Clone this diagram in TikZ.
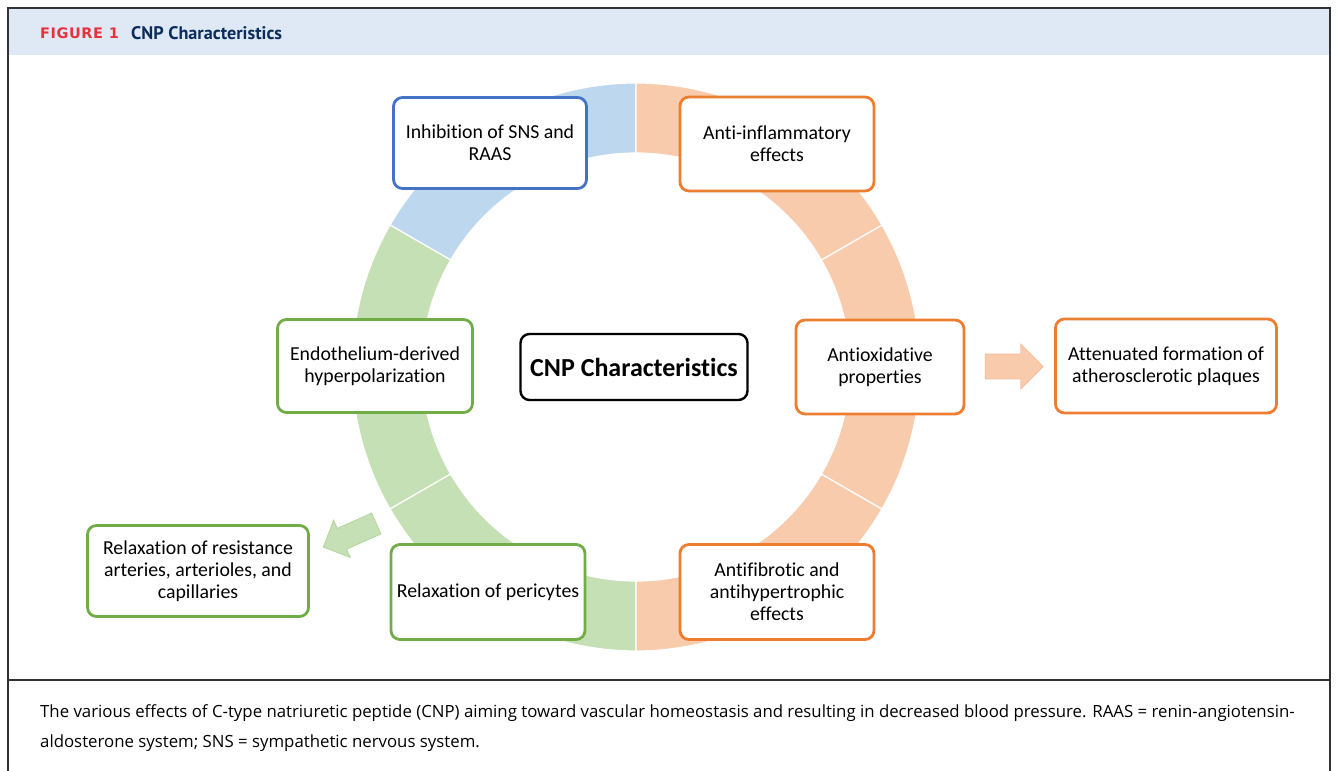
\documentclass[tikz,border=0pt]{standalone}
\usepackage{fontspec}
\setmainfont{Carlito}[Ligatures=NoCommon]
\newfontfamily\headfont{PT Sans}
\newfontfamily\figfont{DejaVu Sans}
\newfontfamily\capfont{Open Sans}
\usepackage{xcolor}
\usepackage{tikz}
\usetikzlibrary{shapes.arrows,calc}

\definecolor{headbg}{HTML}{DEE9F5}
\definecolor{figred}{HTML}{E5323B}
\definecolor{navy}{HTML}{0C2D5B}
\definecolor{ringblue}{HTML}{BDD7EE}
\definecolor{ringgreen}{HTML}{C5E0B4}
\definecolor{ringorange}{HTML}{F8CBAD}
\definecolor{lineblue}{HTML}{4472C4}
\definecolor{linegreen}{HTML}{70AD47}
\definecolor{lineorange}{HTML}{ED7D31}
\definecolor{framegray}{HTML}{333333}

\begin{document}
\begin{tikzpicture}[x=1pt,y=1pt,
    box/.style={draw, line width=2.8pt, rounded corners=9pt, fill=white,
      align=center, inner sep=0pt, font=\fontsize{19.8}{22}\selectfont},
    bluebox/.style={box, draw=lineblue},
    greenbox/.style={box, draw=linegreen},
    orangebox/.style={box, draw=lineorange},
    blockarrow/.style={single arrow, inner xsep=0pt, line width=0.8pt}]
    \useasboundingbox (0,0) rectangle (1336,771);

    % frame and header
    \fill[headbg] (8,716) rectangle (1330,763);
    \draw[framegray, line width=1.6pt] (8,-10) rectangle (1330,763);
    \draw[framegray, line width=1.6pt] (8,91) -- (1330,91);
    \node[anchor=west, inner sep=0pt, text=figred, font=\figfont\bfseries\fontsize{14.5}{18}\selectfont\addfontfeature{LetterSpace=4}] (fig) at (40,738) {FIGURE 1};
    \node[anchor=west, inner sep=0pt, text=navy, font=\headfont\bfseries\fontsize{18.2}{21}\selectfont] (title) at (131,738) {CNP Characteristics};

    % ring
    \coordinate (c) at (636,404);
    \foreach \a/\b/\col in {90/150/ringblue, 150/210/ringgreen, 210/270/ringgreen,
                            270/330/ringorange, 330/390/ringorange, 390/450/ringorange}
      \filldraw[fill=\col, draw=white, line width=1.2pt]
        ([shift={(\a:284)}]c) arc[start angle=\a, end angle=\b, radius=284]
        -- ([shift={(\b:214)}]c) arc[start angle=\b, end angle=\a, radius=214] -- cycle;

    % boxes
    \node[box, draw=black, line width=2.4pt, minimum width=227, minimum height=66,
      font=\bfseries\fontsize{26}{30}\selectfont] (cnp) at (634,404) {CNP Characteristics};
    \node[bluebox, minimum width=193, minimum height=91] (sns) at (490,628) {Inhibition of SNS and\\RAAS};
    \node[orangebox, minimum width=194, minimum height=94] (inflam) at (777,627) {Anti-inflammatory\\effects};
    \node[orangebox, minimum width=168, minimum height=94] (oxid) at (880,404) {Antioxidative\\properties};
    \node[orangebox, minimum width=221, minimum height=94] (plaque) at (1166,405) {Attenuated formation of\\atherosclerotic plaques};
    \node[orangebox, minimum width=194, minimum height=95] (fibro) at (777,179) {Antifibrotic and\\antihypertrophic\\effects};
    \node[greenbox, minimum width=194, minimum height=95] (peri) at (488,179) {Relaxation of pericytes};
    \node[greenbox, minimum width=195, minimum height=93] (endo) at (375,405) {Endothelium-derived\\hyperpolarization};
    \node[greenbox, minimum width=221, minimum height=91] (resist) at (198,200) {Relaxation of resistance\\arteries, arterioles, and\\capillaries};

    % block arrows
    \node[blockarrow, fill=ringorange, draw=ringorange!85!lineorange, inner ysep=12pt,
      single arrow head extend=10pt, minimum height=58pt] (toplaque) at ($(oxid.east)!0.48!(plaque.west)$) {};
    \node[blockarrow, fill=ringgreen, draw=ringgreen!80!linegreen, inner ysep=11pt,
      single arrow head extend=9pt, minimum height=58pt, rotate=204] (toresist) at (355,238) {};

    % caption
    \node[anchor=west, align=left, inner sep=0pt, font=\capfont\fontsize{16.8}{30}\selectfont] (caption) at (40,43)
      {The various effects of C-type natriuretic peptide (CNP) aiming toward vascular homeostasis and resulting in decreased blood pressure. RAAS = renin-angiotensin-\\
       aldosterone system; SNS = sympathetic nervous system.};
\end{tikzpicture}
\end{document}
